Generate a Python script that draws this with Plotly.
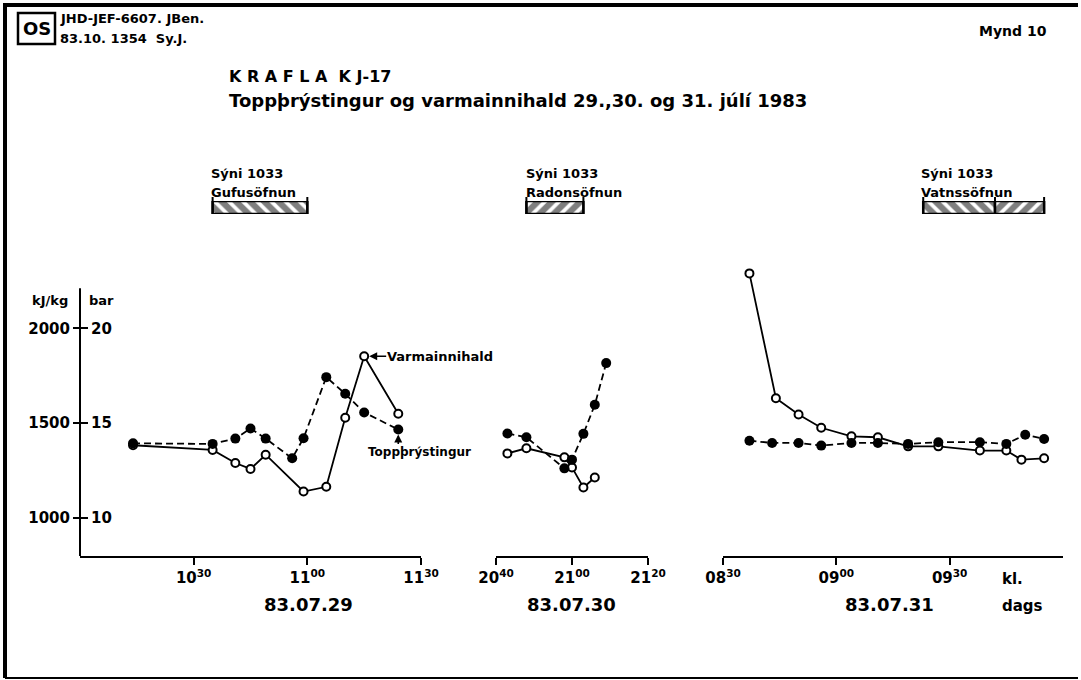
import pandas as pd
import plotly.graph_objects as go

# ---------------- data ----------------
day1 = "1983-07-29"
day2 = "1983-07-30"
day3 = "1983-07-31"

# 29 July
p1_time = ["10:14", "10:35", "10:41", "10:45", "10:49", "10:56", "10:59", "11:05", "11:10", "11:15", "11:24"]
p1_bar = [13.94, 13.91, 14.19, 14.72, 14.19, 13.15, 14.21, 17.43, 16.55, 15.57, 14.67]
h1_time = ["10:14", "10:35", "10:41", "10:45", "10:49", "10:59", "11:05", "11:10", "11:15", "11:24"]
h1_kjkg = [1384, 1359, 1290, 1259, 1334, 1140, 1165, 1529, 1853, 1550]

# 30 July
p2_time = ["20:43", "20:48", "20:58", "21:00", "21:03", "21:06", "21:09"]
p2_bar = [14.46, 14.26, 12.62, 13.08, 14.44, 15.97, 18.17]
h2_time = ["20:43", "20:48", "20:58", "21:00", "21:03", "21:06"]
h2_kjkg = [1341, 1368, 1320, 1267, 1161, 1214]

# 31 July
p3_time = ["08:37", "08:43", "08:50", "08:56", "09:04", "09:11", "09:19", "09:27", "09:38", "09:45", "09:50", "09:55"]
p3_bar = [14.08, 13.96, 13.96, 13.82, 13.96, 13.96, 13.91, 14.00, 14.00, 13.91, 14.39, 14.17]
h3_time = ["08:37", "08:44", "08:50", "08:56", "09:04", "09:11", "09:19", "09:27", "09:38", "09:45", "09:49", "09:55"]
h3_kjkg = [2290, 1632, 1546, 1476, 1431, 1426, 1378, 1378, 1356, 1356, 1308, 1315]

# axis ranges / ticks
x_ranges = [("10:00", "11:30"), ("20:40", "21:20"), ("08:30", "10:00")]
x_tickvals = [["10:30", "11:00", "11:30"], ["20:40", "21:00", "21:20"], ["08:30", "09:00", "09:30"]]
x_ticktext = [["10<sup>30</sup>", "11<sup>00</sup>", "11<sup>30</sup>"],
              ["20<sup>40</sup>", "21<sup>00</sup>", "21<sup>20</sup>"],
              ["08<sup>30</sup>", "09<sup>00</sup>", "09<sup>30</sup>"]]
date_labels = ["83.07.29", "83.07.30", "83.07.31"]
y_kj_ticks = [1000, 1500, 2000]
y_bar_ticks = [10, 15, 20]

# sampling periods
samp_day = [day1, day2, day3, day3]
samp_start = ["10:35", "20:48", "09:23", "09:42"]
samp_end = ["11:00", "21:03", "09:42", "09:55"]
samp_pattern = ["\\", "/", "\\", "/"]
samp_axis = ["x", "x2", "x3", "x3"]
samp_labels = [("Sýni 1033", "Gufusöfnun"), ("Sýni 1033", "Radonsöfnun"), ("Sýni 1033", "Vatnssöfnun")]

# ---------------- helpers ----------------
W, H = 1081, 680
def px(x):
    return x / W
def py(y):
    return 1 - y / H
def ts(day, times):
    return [f"{day} {t}" for t in times]

FONT = "DejaVu Sans"
fig = go.Figure()

days = [day1, day2, day3]
h_times = [h1_time, h2_time, h3_time]
h_vals = [h1_kjkg, h2_kjkg, h3_kjkg]
p_times = [p1_time, p2_time, p3_time]
p_vals = [p1_bar, p2_bar, p3_bar]
xnames = ["x", "x2", "x3"]

for i in range(3):
    fig.add_trace(go.Scatter(
        x=ts(days[i], h_times[i]), y=h_vals[i], xaxis=xnames[i], yaxis="y",
        mode="lines+markers", name="Varmainnihald", showlegend=False,
        line=dict(color="black", width=1.8),
        marker=dict(symbol="circle", size=8, color="white", line=dict(color="black", width=2)),
        cliponaxis=False,
    ))
for i in range(3):
    fig.add_trace(go.Scatter(
        x=ts(days[i], p_times[i]), y=p_vals[i], xaxis=xnames[i], yaxis="y2",
        mode="lines+markers", name="Toppþrýstingur", showlegend=False,
        line=dict(color="black", width=1.8, dash="7px,4px"),
        marker=dict(symbol="circle", size=10, color="black"),
        cliponaxis=False,
    ))

# sampling bars
for d, s, e, pat, ax in zip(samp_day, samp_start, samp_end, samp_pattern, samp_axis):
    start = pd.Timestamp(f"{d} {s}")
    end = pd.Timestamp(f"{d} {e}")
    dur = (end - start).total_seconds() * 1000
    fig.add_trace(go.Bar(
        orientation="h", y=[0], x=[dur], base=[start.strftime("%Y-%m-%d %H:%M")],
        xaxis=ax, yaxis="y3", width=1, showlegend=False,
        marker=dict(color="white", line=dict(color="black", width=2.5),
                    pattern=dict(shape=pat, fgcolor="black", bgcolor="white",
                                 size=10, solidity=0.62, fillmode="overlay")),
    ))
    # bracket ends rising above the bar
    for t in (start, end):
        fig.add_shape(type="line", xref=ax, yref="paper",
                      x0=t, x1=t, y0=py(214), y1=py(197),
                      line=dict(color="black", width=2))

x_domains = [[px(80), px(421)], [px(496), px(648)], [px(723), px(1063)]]
axis_common = dict(type="date", showline=True, linecolor="black", linewidth=2,
                   ticks="outside", ticklen=7, tickwidth=2, tickcolor="black",
                   showgrid=False, zeroline=False, anchor="y",
                   tickfont=dict(family=FONT, size=15, color="black", weight="bold"))
for i in range(3):
    key = "xaxis" if i == 0 else f"xaxis{i+1}"
    fig.update_layout({key: dict(
        domain=x_domains[i],
        range=ts(days[i], list(x_ranges[i])),
        tickvals=ts(days[i], x_tickvals[i]),
        ticktext=x_ticktext[i],
        **axis_common)})

y_dom = [py(556), py(267.7)]
fig.update_layout(
    width=W, height=H,
    margin=dict(l=0, r=0, t=0, b=0, pad=0, autoexpand=False),
    paper_bgcolor="white", plot_bgcolor="rgba(0,0,0,0)",
    font=dict(family=FONT, color="black", size=14, weight="bold"),
    showlegend=False,
    barmode="overlay",
    yaxis=dict(domain=y_dom, range=[800, 2320], anchor="free", position=px(80),
               showline=False, showgrid=False, zeroline=False,
               ticks="outside", ticklen=7, tickwidth=2, tickcolor="black",
               tickvals=y_kj_ticks, ticktext=[str(v) for v in y_kj_ticks],
               tickfont=dict(family=FONT, size=15, color="black", weight="bold")),
    yaxis2=dict(overlaying="y", side="right", anchor="free", position=px(80),
                range=[8, 23.2], showline=False, showgrid=False, zeroline=False,
                ticks="outside", ticklen=7, tickwidth=2, tickcolor="black",
                tickvals=y_bar_ticks, ticktext=[str(v) for v in y_bar_ticks],
                tickfont=dict(family=FONT, size=15, color="black", weight="bold")),
    yaxis3=dict(domain=[py(214), py(201)], range=[-0.5, 0.5], visible=False,
                anchor="free", position=0, fixedrange=True),
)

# y-axis vertical line (ends below the top of the plot region)
fig.add_shape(type="line", xref="paper", yref="y", x0=px(80), x1=px(80),
              y0=800, y1=2212, line=dict(color="black", width=2))

# frame of the drawing (left, top, bottom)
fig.add_shape(type="line", xref="paper", yref="paper", x0=px(3), x1=px(1078), y0=py(5), y1=py(5),
              line=dict(color="black", width=4))
fig.add_shape(type="line", xref="paper", yref="paper", x0=px(5), x1=px(5), y0=py(3), y1=py(678),
              line=dict(color="black", width=4))
fig.add_shape(type="line", xref="paper", yref="paper", x0=px(5), x1=px(1078), y0=py(678), y1=py(678),
              line=dict(color="black", width=2))

# logo box
fig.add_shape(type="rect", xref="paper", yref="paper", x0=px(18), x1=px(55), y0=py(44), y1=py(13),
              line=dict(color="black", width=2.5))

def txt(x, y, s, size=13, xanchor="left", yanchor="middle"):
    fig.add_annotation(x=px(x), y=py(y), xref="paper", yref="paper", text=s, showarrow=False,
                       xanchor=xanchor, yanchor=yanchor, borderpad=0,
                       font=dict(family=FONT, size=size, color="black", weight="bold"))

txt(36.5, 29, "OS", size=18, xanchor="center")
txt(59, 18, "JHD-JEF-6607. JBen.", size=13)
txt(59, 38, "83.10. 1354  Sy.J.", size=13)
txt(978, 31, "Mynd 10", size=14)
txt(228, 76, "K R A F L A  K J-17", size=16)
txt(228, 100, "Toppþrýstingur og varmainnihald 29.,30. og 31. júlí 1983", size=18)

txt(31, 300, "kJ/kg", size=13)
txt(88, 300, "bar", size=13)

label_x = [210, 525, 920]
for (l1, l2), lx in zip(samp_labels, label_x):
    txt(lx, 173, l1, size=13)
    txt(lx, 192, l2, size=13)

date_cx = [308, 571, 889]
for lbl, cx in zip(date_labels, date_cx):
    txt(cx, 604, lbl, size=18, xanchor="center")
txt(1001, 579, "kl.", size=15)
txt(1001, 606, "dags", size=15)

# series labels with arrows
fig.add_annotation(x=f"{day1} {h1_time[8]}", y=h1_kjkg[8], xref="x", yref="y",
                   text="Varmainnihald", showarrow=True, ax=22, ay=0,
                   xanchor="left", arrowhead=2, arrowsize=1, arrowwidth=1.6, standoff=5,
                   arrowcolor="black", borderpad=0,
                   font=dict(family=FONT, size=13, color="black", weight="bold"))
fig.add_annotation(x=f"{day1} {p1_time[10]}", y=p1_bar[10], xref="x", yref="y2",
                   text="", showarrow=True, ax=0, ay=16, arrowcolor="black",
                   arrowhead=2, arrowsize=1, arrowwidth=1.6, standoff=5)
txt(419, 452, "Toppþrýstingur", size=12, xanchor="center")

fig.write_html("out.html")
